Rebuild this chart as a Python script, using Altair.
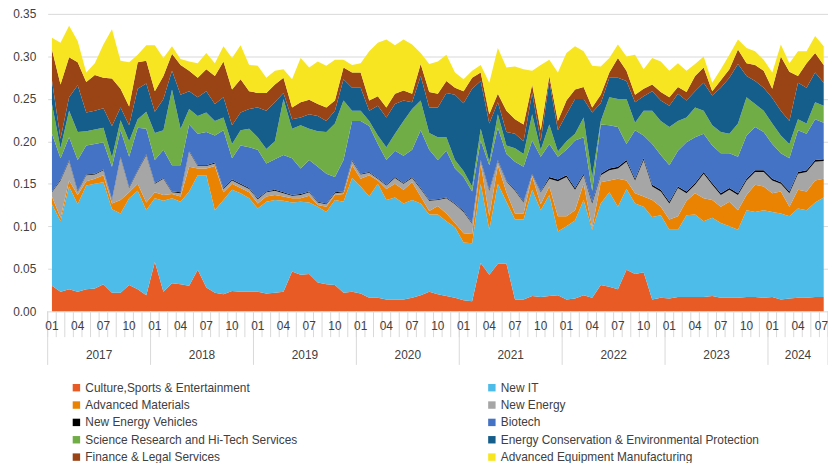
import altair as alt
import pandas as pd

# ---- categories -------------------------------------------------------
years = [2017, 2018, 2019, 2020, 2021, 2022, 2023, 2024]
month_idx = list(range(91))  # 2017-01 .. 2024-07
month_tick_labels = ["01", "04", "07", "10"]

series_names = [
    "Culture,Sports & Entertainment", "New IT", "Advanced Materials", "New Energy",
    "New Energy Vehicles", "Biotech", "Science Research and Hi-Tech Services",
    "Energy Conservation & Environmental Protection", "Finance & Legal Services",
    "Advanced Equipment Manufacturing",
]
series_colors = ["#E85B24", "#4EBCE8", "#E98301", "#A6A6A6", "#000000",
                 "#4472C4", "#70AD47", "#155D8B", "#9A4315", "#F7E522"]

# ---- series values (monthly shares) ------------------------------------
culture = [.030,.023,.026,.023,.026,.027,.032,.022,.022,.031,
           .026,.019,.058,.023,.033,.032,.030,.049,.028,.022,
           .020,.024,.023,.023,.023,.021,.022,.023,.047,.043,
           .044,.034,.032,.031,.022,.023,.021,.016,.016,.014,
           .014,.014,.016,.019,.023,.020,.018,.016,.013,.012,
           .057,.043,.056,.056,.014,.014,.018,.017,.018,.019,
           .014,.015,.019,.016,.031,.029,.026,.049,.044,.046,
           .014,.016,.015,.017,.017,.017,.017,.018,.016,.016,
           .016,.017,.017,.016,.017,.014,.015,.016,.016,.017,
           .017]
new_it = [.096,.083,.121,.103,.122,.123,.120,.098,.093,.102,
          .116,.100,.075,.107,.100,.097,.111,.111,.132,.097,
          .111,.119,.116,.110,.098,.108,.109,.107,.081,.086,
          .084,.089,.085,.100,.107,.134,.126,.119,.134,.117,
          .120,.113,.115,.108,.091,.094,.088,.083,.068,.068,
          .093,.053,.094,.073,.094,.094,.125,.102,.119,.075,
          .086,.092,.112,.080,.096,.111,.097,.095,.083,.077,
          .097,.097,.081,.079,.096,.097,.089,.092,.088,.084,
          .080,.102,.100,.103,.100,.101,.097,.105,.103,.111,
          .117]
adv_materials = [.009,.004,.007,.011,.005,.006,.008,.007,.016,.007,
                 .008,.009,.007,.007,.005,.006,.029,.008,.008,.052,
                 .009,.007,.006,.007,.006,.006,.006,.005,.005,.004,
                 .008,.002,.006,.006,.009,.015,.009,.025,.004,.013,
                 .016,.016,.021,.008,.004,.010,.009,.005,.011,.011,
                 .024,.016,.022,.011,.007,.007,.016,.007,.010,.018,
                 .012,.012,.019,.002,.025,.014,.033,.010,.012,.012,
                 .020,.010,.012,.016,.017,.025,.027,.021,.019,.029,
                 .023,.018,.032,.028,.022,.026,.011,.022,.022,.026,
                 .022]
new_energy = [.005,.044,.023,.004,.007,.005,.006,.004,.050,.005,
              .015,.056,.010,.019,.002,.004,.018,.003,.003,.003,
              .004,.004,.004,.004,.005,.005,.005,.004,.003,.004,
              .004,.003,.003,.002,.002,.005,.005,.003,.002,.004,
              .007,.007,.005,.009,.012,.007,.018,.022,.025,.012,
              .003,.030,.005,.013,.027,.013,.002,.014,.009,.041,
              .046,.024,.010,.029,.008,.012,.012,.022,.015,.043,
              .016,.018,.019,.033,.009,.010,.029,.018,.014,.014,
              .018,.017,.015,.017,.015,.009,.016,.019,.023,.022,
              .021]
nev = [.001] * 58 + [.002] * 33
biotech = [.068,.025,.027,.036,.034,.035,.032,.038,.031,.036,
           .050,.030,.027,.033,.031,.032,.031,.037,.039,.032,
           .068,.025,.045,.048,.057,.033,.036,.044,.043,.030,
           .037,.041,.035,.018,.037,.046,.062,.054,.040,.029,
           .031,.032,.032,.068,.059,.046,.055,.041,.040,.037,
           .023,.029,.038,.031,.033,.041,.039,.041,.039,.027,
           .030,.056,.043,.013,.058,.051,.047,.019,.057,.027,
           .048,.041,.043,.042,.058,.054,.045,.044,.047,.041,
           .043,.051,.051,.045,.041,.034,.039,.049,.043,.048,
           .043]
sci_research = [.035,.012,.031,.033,.017,.017,.017,.011,.012,.018,
                .010,.020,.032,.023,.089,.043,.018,.021,.023,.017,
                .015,.017,.018,.022,.015,.017,.021,.066,.035,.051,
                .037,.042,.049,.063,.070,.012,.012,.006,.010,.015,
                .020,.041,.048,.035,.020,.027,.016,.010,.007,.006,
                .014,.004,.016,.010,.016,.015,.031,.008,.023,.006,
                .010,.008,.023,.016,.004,.033,.033,.053,.009,.029,
                .039,.040,.045,.035,.029,.035,.027,.024,.025,.023,
                .039,.045,.027,.025,.024,.021,.017,.013,.012,.020,
                .020]
energy_cons = [.028,.011,.016,.055,.022,.022,.023,.037,.015,.019,
               .036,.033,.025,.037,.022,.040,.021,.022,.025,.020,
               .024,.022,.021,.023,.035,.045,.046,.007,.011,.009,
               .017,.018,.013,.015,.025,.027,.027,.012,.035,.035,
               .035,.024,.008,.029,.030,.035,.052,.077,.080,.115,
               .056,.045,.014,.016,.017,.015,.025,.010,.051,.025,
               .032,.041,.022,.076,.021,.023,.025,.021,.024,.017,
               .023,.024,.025,.032,.020,.019,.033,.035,.052,.066,
               .070,.025,.027,.027,.030,.029,.027,.043,.042,.035,
               .027]
finance = [.036,.064,.047,.027,.036,.042,.036,.056,.022,.022,
           .031,.027,.024,.027,.020,.035,.024,.023,.026,.033,
           .042,.042,.039,.021,.017,.021,.021,.018,.014,.018,
           .017,.014,.016,.012,.014,.018,.018,.012,.011,.012,
           .012,.012,.010,.014,.018,.016,.014,.008,.014,.013,
           .010,.011,.010,.025,.017,.020,.010,.013,.006,.011,
           .016,.011,.014,.006,.010,.006,.023,.012,.009,.009,
           .008,.010,.010,.008,.010,.018,.018,.005,.009,.010,
           .017,.015,.019,.020,.011,.064,.058,.008,.029,.023,
           .021]
adv_equipment = [.014,.049,.037,.025,.011,.014,.039,.058,.033,.052,
                 .009,.018,.054,.021,.009,.007,.011,.017,.019,.015,
                 .018,.037,.040,.031,.032,.018,.016,.010,.033,.052,
                 .038,.050,.049,.048,.009,.009,.011,.058,.063,.080,
                 .057,.060,.058,.013,.033,.038,.031,.018,.014,.008,
                 .009,.037,.054,.051,.062,.065,.016,.077,.019,.057,
                 .056,.051,.042,.049,.033,.017,.016,.017,.047,.023,
                 .031,.036,.031,.028,.025,.014,.013,.010,.013,.017,
                 .012,.018,.016,.013,.019,.014,.010,.029,.014,.020,
                 .022]

all_series = [culture, new_it, adv_materials, new_energy, nev, biotech,
              sci_research, energy_cons, finance, adv_equipment]

rows = []
for k, (name, vals) in enumerate(zip(series_names, all_series)):
    for i, v in zip(month_idx, vals):
        rows.append({"i": i, "v": v, "series": name, "k": k})
df = pd.DataFrame(rows)

# first-level axis labels (every third month) and boundaries
label_pos = [m for m in month_idx if m % 3 == 0]
month_labels = pd.DataFrame({
    "m": label_pos,
    "lab": [month_tick_labels[(m % 12) // 3] for m in label_pos],
})
inner_labels = month_labels.iloc[:-1]
last_label = month_labels.iloc[-1:].assign(edge=90.5)

month_bounds = pd.DataFrame({"b": [m - 0.5 for m in month_idx] + [90.5]})
year_bounds = pd.DataFrame({"b": [-0.5, 11.5, 23.5, 35.5, 47.5, 59.5, 71.5, 83.5, 90.5]})
year_labels = pd.DataFrame({
    "c": [5.5, 17.5, 29.5, 41.5, 53.5, 65.5, 77.5, 87.0],
    "year": [str(y) for y in years],
})

FONT = "Liberation Sans"
TXT = "#404040"

xscale = alt.Scale(domain=[-0.5, 90.5], nice=False, zero=False)

area = alt.Chart(df).mark_area(interpolate="linear").encode(
    x=alt.X("i:Q", scale=xscale, axis=None),
    y=alt.Y("v:Q", stack="zero",
            scale=alt.Scale(domain=[0, 0.35], nice=False),
            axis=alt.Axis(values=[0, 0.05, 0.10, 0.15, 0.20, 0.25, 0.30, 0.35],
                          format=".2f", title=None, domain=False, ticks=False,
                          grid=True, gridColor="#D9D9D9", labelPadding=12,
                          labelFontSize=12, labelColor=TXT, labelFont=FONT)),
    color=alt.Color("series:N",
                    scale=alt.Scale(domain=series_names, range=series_colors),
                    legend=alt.Legend(title=None, orient="none", legendX=23, legendY=371,
                                      columns=2, direction="horizontal",
                                      columnPadding=189, rowPadding=5.5,
                                      symbolType="square", symbolSize=56,
                                      symbolStrokeWidth=0, labelFontSize=12,
                                      labelColor=TXT, labelFont=FONT, labelLimit=400,
                                      labelOffset=3)),
    order=alt.Order("k:Q", sort="ascending"),
)

month_ticks = alt.Chart(month_bounds).mark_rule(color="#D9D9D9", strokeWidth=1).encode(
    x=alt.X("b:Q", scale=xscale, axis=None),
    y=alt.value(300), y2=alt.value(326),
)
year_ticks = alt.Chart(year_bounds).mark_rule(color="#D9D9D9", strokeWidth=1).encode(
    x=alt.X("b:Q", scale=xscale, axis=None),
    y=alt.value(300), y2=alt.value(354),
)
month_text = alt.Chart(inner_labels).mark_text(
    fontSize=12, color=TXT, font=FONT, baseline="middle", align="center"
).encode(
    x=alt.X("m:Q", scale=xscale, axis=None),
    y=alt.value(315),
    text="lab:N",
)
last_month_text = alt.Chart(last_label).mark_text(
    fontSize=12, color=TXT, font=FONT, baseline="middle", align="right"
).encode(
    x=alt.X("edge:Q", scale=xscale, axis=None),
    y=alt.value(315),
    text="lab:N",
)
year_text = alt.Chart(year_labels).mark_text(
    fontSize=12, color=TXT, font=FONT, baseline="middle", align="center"
).encode(
    x=alt.X("c:Q", scale=xscale, axis=None),
    y=alt.value(344),
    text="year:N",
)

chart = alt.layer(area, month_ticks, year_ticks, month_text, last_month_text,
                  year_text).properties(
    width=787, height=300,
    autosize=alt.AutoSizeParams(type="none"),
    padding={"left": 40, "top": 4, "right": 0, "bottom": 151},
).configure_view(stroke=None)

chart.save("out.html", embed_options={"renderer": "svg", "actions": False})
